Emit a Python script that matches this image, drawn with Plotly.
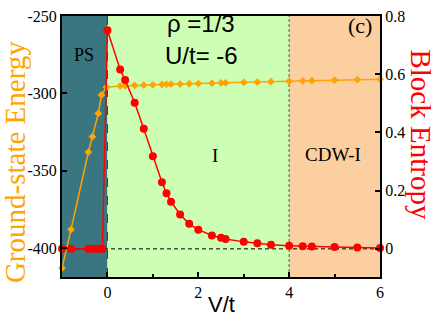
import plotly.graph_objects as go

# ---- data ----
v_energy = [-1.0, -0.8, -0.42, -0.33, -0.2, -0.13, -0.02, 0.28, 0.39, 0.6, 0.8, 1.0, 1.2, 1.3, 1.4,
            1.6, 1.8, 2.0, 2.3, 2.5, 2.6, 3.0, 3.3, 3.6, 4.0, 4.3, 4.5, 5.0, 5.5, 6.0]
energy = [-413, -388, -338, -328, -313, -301, -296, -295.3, -295.1, -294.9, -294.7, -294.5, -294.3,
          -294.2, -294.1, -294.0, -293.8, -293.7, -293.4, -293.3, -293.2, -292.9, -292.7, -292.5,
          -292.2, -291.9, -291.8, -291.5, -291.2, -290.9]

v_entropy = [-1.0, -0.8, -0.42, -0.34, -0.25, -0.17, -0.11, 0.0, 0.28, 0.39, 0.6, 0.8, 1.0, 1.2, 1.3,
             1.4, 1.6, 1.8, 2.0, 2.3, 2.5, 2.6, 3.0, 3.3, 3.6, 4.0, 4.3, 4.5, 5.0, 5.5, 6.0]
entropy = [0, 0, 0, 0, 0, 0, 0, 0.751, 0.616, 0.58, 0.502, 0.413, 0.318, 0.229, 0.191, 0.162, 0.118,
           0.086, 0.066, 0.046, 0.038, 0.034, 0.024, 0.019, 0.014, 0.011, 0.009, 0.008, 0.006, 0.005,
           0.003]

x_ticks = [0, 2, 4, 6]
x_ticktext = ["0", "2", "4", "6"]
e_ticks = [-400, -350, -300, -250]
e_ticktext = ["-400", "-350", "-300", "-250"]
s_ticks = [0, 0.2, 0.4, 0.6, 0.8]
s_ticktext = ["0", "0.2", "0.4", "0.6", "0.8"]

regions = [(-1.0, 0.0, "#3a7680"), (0.0, 4.0, "#ccffb4"), (4.0, 6.0, "#fbcf9f")]

SERIF = "Liberation Serif"
SANS = "Liberation Sans"

fig = go.Figure()

fig.add_trace(go.Scatter(
    x=v_energy, y=energy, mode="lines+markers",
    line=dict(color="#ffa500", width=1.5),
    marker=dict(symbol="diamond", size=6, color="#ffa500"),
    yaxis="y", showlegend=False, cliponaxis=False))

fig.add_trace(go.Scatter(
    x=v_entropy, y=entropy, mode="lines+markers",
    line=dict(color="#ff0000", width=1.5),
    marker=dict(symbol="circle", size=8, color="#ff0000"),
    yaxis="y2", showlegend=False, cliponaxis=False))

shapes = []
for x0, x1, c in regions:
    shapes.append(dict(type="rect", xref="x", yref="paper", x0=x0, x1=x1, y0=0, y1=1,
                       fillcolor=c, line=dict(width=0), layer="below"))
shapes.append(dict(type="line", xref="x", yref="paper", x0=0, x1=0, y0=0, y1=1,
                   line=dict(color="#2a3a3a", width=1, dash="dash"), layer="below"))
shapes.append(dict(type="line", xref="x", yref="paper", x0=4, x1=4, y0=0, y1=1,
                   line=dict(color="#555555", width=1, dash="3px,2px"), layer="below"))
shapes.append(dict(type="line", xref="paper", yref="y2", x0=0, x1=1, y0=0, y1=0,
                   line=dict(color="black", width=1, dash="4px,3px"), layer="below"))


def ann(text, x, y, xref, yref, family, size, color="black", angle=0):
    return dict(text=text, x=x, y=y, xref=xref, yref=yref, showarrow=False,
                xanchor="center", yanchor="middle", textangle=angle,
                font=dict(family=family, size=size, color=color))


annotations = [
    ann("PS", -0.52, 0.851, "x", "paper", SERIF, 18),
    ann("ρ =1/3", 2.06, 0.97, "x", "paper", SANS, 24),
    ann("U/t= -6", 2.06, 0.847, "x", "paper", SANS, 24),
    ann("(c)", 5.57, 0.962, "x", "paper", SERIF, 22),
    ann("I", 2.37, 0.466, "x", "paper", SERIF, 19),
    ann("CDW-I", 4.97, 0.47, "x", "paper", SERIF, 19),
    ann("Ground-state Energy", -0.148, 0.44, "paper", "paper", SERIF, 29, "#ffa500", -90),
    ann("Block Entropy", 1.126, 0.546, "paper", "paper", SERIF, 29, "#ff0000", 90),
    ann("V/t", 0.503, -0.104, "paper", "paper", SANS, 22),
]

fig.update_layout(
    width=434, height=314,
    margin=dict(l=62, r=54, t=8, b=37),
    paper_bgcolor="white", plot_bgcolor="white",
    shapes=shapes, annotations=annotations,
    xaxis=dict(range=[-1.0, 6.0], tickvals=x_ticks, ticktext=x_ticktext,
               ticks="inside", ticklen=5, tickwidth=1.5, tickcolor="black",
               minor=dict(tickvals=[-1, 1, 3, 5], ticks="inside", ticklen=3, tickwidth=1.5,
                          tickcolor="black"),
               showline=True, linewidth=2, linecolor="black", mirror=True,
               showgrid=False, zeroline=False,
               tickfont=dict(family=SERIF, size=16, color="black")),
    yaxis=dict(range=[-418.75, -250], tickvals=e_ticks, ticktext=e_ticktext,
               ticks="inside", ticklen=5, tickwidth=1.5, tickcolor="black",
               showline=True, linewidth=2, linecolor="black",
               showgrid=False, zeroline=False,
               tickfont=dict(family=SERIF, size=16, color="black")),
    yaxis2=dict(range=[-0.0967, 0.8], tickvals=s_ticks, ticktext=s_ticktext,
                overlaying="y", side="right",
                ticks="inside", ticklen=5, tickwidth=1.5, tickcolor="black",
                showline=True, linewidth=2, linecolor="black",
                showgrid=False, zeroline=False,
                tickfont=dict(family=SERIF, size=16, color="black")),
)

fig.write_html("out.html", config={"displayModeBar": False},
               post_script="document.body.style.margin='0';")
